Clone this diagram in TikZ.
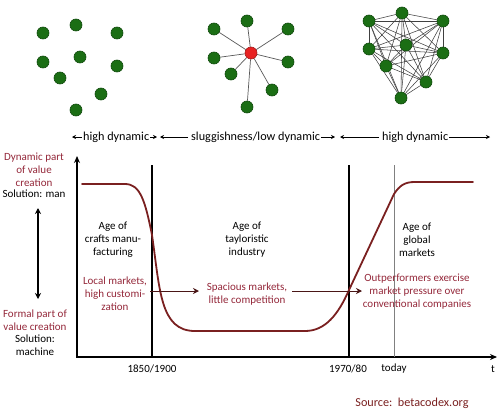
\documentclass[tikz,border=0pt]{standalone}
\usepackage{fontspec}
\setmainfont{Carlito}
\usetikzlibrary{arrows.meta,backgrounds}
\definecolor{dgreen}{HTML}{1B6E14}
\definecolor{dgreenb}{HTML}{0F4A0B}
\definecolor{nred}{HTML}{E82222}
\definecolor{tred}{HTML}{94283A}
\definecolor{cred}{HTML}{7A2020}
\definecolor{ared}{HTML}{4A1616}
\begin{document}
\begin{tikzpicture}[x=1pt,y=-1pt,
  dot/.style={circle,fill=dgreen,draw=dgreenb,line width=0.6pt,minimum size=12pt,inner sep=0pt},
  hub/.style={circle,fill=nred,draw=nred!70!black,line width=0.6pt,minimum size=12pt,inner sep=0pt},
  spoke/.style={draw=gray!70!black,line width=0.7pt},
  mesh/.style={draw=black!75,line width=0.55pt},
  lbl/.style={font=\fontsize{11}{13}\selectfont,align=center,inner sep=0pt},
  rlbl/.style={lbl,text=tred},
  toplbl/.style={font=\fontsize{12.2}{14}\selectfont,inner sep=0pt},
  tarrow/.style={-{Stealth[length=4pt,width=4pt]},line width=0.7pt},
  axis/.style={line width=1.6pt,{Stealth[length=7pt,width=6pt]}-{Stealth[length=7pt,width=6pt]}},
  era/.style={line width=1.2pt},
  harrow/.style={draw=ared,line width=1pt,-{Stealth[length=6pt,width=6pt]}}
]
\useasboundingbox (0,0) rectangle (497,415);

% cluster 1
\node[dot] (a1) at (43,33) {};
\node[dot] (a2) at (76,25) {};
\node[dot] (a3) at (117,33) {};
\node[dot] (a4) at (43,62) {};
\node[dot] (a5) at (80,57) {};
\node[dot] (a6) at (117,66) {};
\node[dot] (a7) at (60,78) {};
\node[dot] (a8) at (101,94) {};
\node[dot] (a9) at (76,110) {};

% cluster 2
\node[hub] (h) at (251,53) {};
\node[dot] (b1) at (247,21) {};
\node[dot] (b2) at (214,29) {};
\node[dot] (b3) at (288,29) {};
\node[dot] (b4) at (214,58) {};
\node[dot] (b5) at (288,62) {};
\node[dot] (b6) at (231,74) {};
\node[dot] (b7) at (272,90) {};
\node[dot] (b8) at (247,107) {};
\begin{scope}[on background layer]
\foreach \i in {1,...,8} \draw[spoke] (h) -- (b\i);
\end{scope}

% cluster 3
\node[dot] (c1) at (402,13) {};
\node[dot] (c2) at (369,21) {};
\node[dot] (c3) at (443,21) {};
\node[dot] (c4) at (369,49) {};
\node[dot] (c5) at (406,45) {};
\node[dot] (c6) at (443,53) {};
\node[dot] (c7) at (386,66) {};
\node[dot] (c8) at (426,82) {};
\node[dot] (c9) at (401,98) {};
\begin{scope}[on background layer]
\foreach \i in {1,...,8}{
  \pgfmathtruncatemacro\k{\i+1}
  \foreach \j in {\k,...,9} \draw[mesh] (c\i) -- (c\j);
}
\end{scope}

% dynamic labels row
\node[toplbl,anchor=west] (d1) at (83,137) {high dynamic};
\coordinate (d1l) at (72,137);
\coordinate (d1r) at (157,137);
\draw[tarrow] (d1.west) ++(-1,0) -- (d1l);
\draw[tarrow] (d1.east) ++(1,0) -- (d1r);
\node[toplbl,anchor=west] (d2) at (191,137) {sluggishness/low dynamic};
\coordinate (d2l) at (160,137);
\coordinate (d2r) at (335,137);
\draw[tarrow] (d2.west) ++(-3,0) -- (d2l);
\draw[tarrow] (d2.east) ++(1,0) -- (d2r);
\node[toplbl,anchor=west] (d3) at (382,137) {high dynamic};
\coordinate (d3l) at (340,137);
\coordinate (d3r) at (490,137);
\draw[tarrow] (d3.west) ++(-3,0) -- (d3l);
\draw[tarrow] (d3.east) ++(1,0) -- (d3r);

% left labels
\node[rlbl] (dyn) at (34,170) {Dynamic part\\of value\\creation};
\node[lbl,anchor=north] (sman) at (34,190) {Solution: man};
\node[rlbl] (form) at (35,320) {Formal part of\\value creation};
\node[lbl,anchor=north] (smach) at (35,335) {Solution:\\machine};
\coordinate (da) at (38,208);
\coordinate (db) at (38,299);
\draw[line width=1.2pt,{Stealth[length=6pt,width=6pt]}-{Stealth[length=6pt,width=6pt]}] (da) -- (db);

% axes
\coordinate (O) at (77,357);
\coordinate (ytop) at (77,156);
\coordinate (xend) at (497,357);
\draw[axis] (ytop) -- (O) -- (xend);

\coordinate (v1t) at (152,165);
\coordinate (v1b) at (152,357);
\coordinate (v2t) at (349,165);
\coordinate (v2b) at (349,357);
\coordinate (v3t) at (394,165);
\coordinate (v3b) at (394,357);
\draw[era] (v1t) -- (v1b);
\draw[era] (v2t) -- (v2b);
\draw[line width=0.9pt,gray] (v3t) -- (v3b);

% tick labels
\node[lbl] (t1) at (152,369) {1850/1900};
\node[lbl] (t2) at (348,369) {1970/80};
\node[lbl] (t3) at (394,369) {today};
\node[lbl] (t4) at (493,369) {t};
\node[font=\fontsize{12.2}{14}\selectfont,inner sep=0pt,text=cred] (src) at (412,403) {Source:\ \ betacodex.org};

% age labels
\node[lbl] (age1) at (113,240) {Age of\\crafts manu-\\facturing};
\node[lbl] (age2) at (247,240) {Age of\\tayloristic\\industry};
\node[lbl] (age3) at (417,240) {Age of\\global\\markets};

% market labels
\node[rlbl] (m1) at (115,294) {Local markets,\\high customi-\\zation};
\node[rlbl] (m2) at (247,294) {Spacious markets,\\little competition};
\node[rlbl] (m3) at (417,292) {Outperformers exercise\\market pressure over\\conventional companies};

% curve
\draw[cred,line width=1.8pt,line cap=round]
  (82,184) -- (125,184) .. controls (140,184) and (145,200) .. (152,235)
  .. controls (160,290) and (160,331) .. (195,331) -- (305,331)
  .. controls (325,331) and (338,315) .. (349,290) -- (394,194)
  .. controls (400,185) and (405,182) .. (415,182) -- (473,182);

% market arrows
\coordinate (p1) at (150,291);
\coordinate (p1e) at (199,291);
\draw[harrow] (p1) -- (p1e);
\coordinate (p2) at (292,291);
\coordinate (p2e) at (362,291);
\draw[harrow] (p2) -- (p2e);
\end{tikzpicture}
\end{document}
